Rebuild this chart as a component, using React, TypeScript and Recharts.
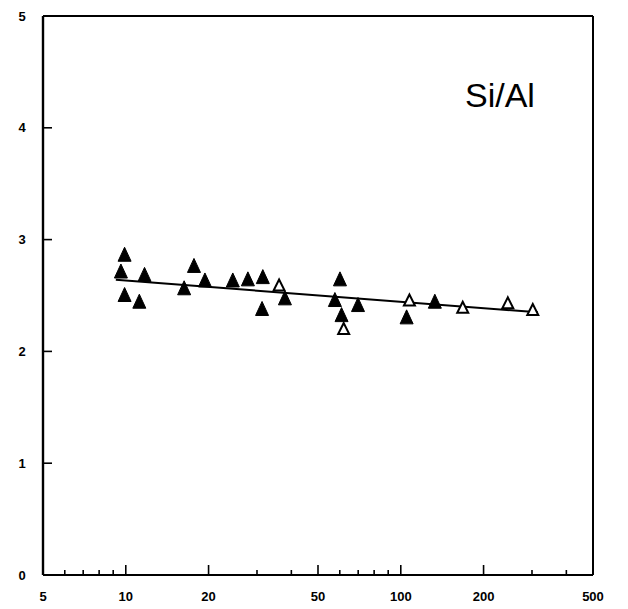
import React from 'react';
import { ScatterChart, Scatter, XAxis, YAxis } from 'recharts';

// Filled-triangle samples (x = abscissa, y = Si/Al)
const filledX = [9.9, 9.6, 11.7, 9.9, 11.2, 17.7, 19.4, 16.3, 24.5, 27.8, 31.5, 31.3, 37.9, 60.1, 57.6, 60.9, 69.9, 105, 133];
const filledY = [2.86, 2.71, 2.68, 2.5, 2.44, 2.76, 2.63, 2.56, 2.63, 2.64, 2.66, 2.375, 2.47, 2.64, 2.455, 2.32, 2.41, 2.3, 2.44];
// Open-triangle samples
const openX = [36.1, 62, 107.5, 168, 245, 302];
const openY = [2.59, 2.2, 2.455, 2.39, 2.43, 2.37];
// Regression line end points
const fitX = [9.2, 315];
const fitY = [2.64, 2.35];

const xTicks = [5, 6, 7, 8, 9, 10, 20, 30, 40, 50, 60, 70, 80, 90, 100, 200, 300, 400, 500];
const xLabels = [5, 10, 20, 50, 100, 200, 500];
const xMajor = [10, 20, 50, 100, 200];
const yTicks = [0, 1, 2, 3, 4, 5];
const seriesLabel = 'Si/Al';

const filledData = filledX.map((x, i) => ({ x, y: filledY[i] }));
const openData = openX.map((x, i) => ({ x, y: openY[i] }));
const fitData = fitX.map((x, i) => ({ x, y: fitY[i] }));

const FONT = '"Liberation Sans", Arial, sans-serif';

const XTick = (props: any) => {
  const { x, y, payload } = props;
  const v = payload.value;
  const showLine = v !== 5 && v !== 500;
  const len = xMajor.includes(v) ? 10 : 5;
  return (
    <g>
      {showLine && <line x1={x} x2={x} y1={y} y2={y - len} stroke="#000" strokeWidth={1.6} />}
      {xLabels.includes(v) && (
        <text x={x} y={y + 26} textAnchor="middle" fontFamily={FONT} fontWeight="bold" fontSize={13} fill="#000">
          {v}
        </text>
      )}
    </g>
  );
};

const YTick = (props: any) => {
  const { x, y, payload } = props;
  const v = payload.value;
  const showLine = v !== 0 && v !== 5;
  return (
    <g>
      {showLine && <line x1={x} x2={x + 9} y1={y} y2={y} stroke="#000" strokeWidth={1.6} />}
      <text x={x - 21} y={y + 4.5} textAnchor="middle" fontFamily={FONT} fontWeight="bold" fontSize={13} fill="#000">
        {v}
      </text>
    </g>
  );
};

const FilledTri = (props: any) => {
  const { cx, cy } = props;
  return <polygon points={`${cx},${cy - 8} ${cx - 6.5},${cy + 6} ${cx + 6.5},${cy + 6}`} fill="#000" stroke="#000" strokeWidth={1} />;
};

const OpenTri = (props: any) => {
  const { cx, cy } = props;
  return <polygon points={`${cx},${cy - 6} ${cx - 5.5},${cy + 5} ${cx + 5.5},${cy + 5}`} fill="#fff" stroke="#000" strokeWidth={2} />;
};

const NoShape = () => <g />;

export default function App() {
  return (
    <div style={{ position: 'absolute', left: 0, top: 0, background: '#fff' }}>
      <ScatterChart width={628} height={609} margin={{ top: 15, right: 34, bottom: 33, left: 42 }}>
        <XAxis
          xAxisId="b"
          dataKey="x"
          type="number"
          scale="log"
          domain={[5, 500]}
          allowDataOverflow
          ticks={xTicks}
          interval={0}
          tick={XTick}
          tickLine={false}
          tickSize={0}
          tickMargin={0}
          height={1}
          axisLine={{ stroke: '#000', strokeWidth: 2 }}
        />
        <XAxis
          xAxisId="t"
          orientation="top"
          dataKey="x"
          type="number"
          scale="log"
          domain={[5, 500]}
          allowDataOverflow
          tick={false}
          tickLine={false}
          height={1}
          axisLine={{ stroke: '#000', strokeWidth: 2 }}
        />
        <YAxis
          yAxisId="l"
          dataKey="y"
          type="number"
          domain={[0, 5]}
          ticks={yTicks}
          interval={0}
          tick={YTick}
          tickLine={false}
          tickSize={0}
          tickMargin={0}
          width={1}
          axisLine={{ stroke: '#000', strokeWidth: 2.4 }}
        />
        <YAxis
          yAxisId="r"
          orientation="right"
          dataKey="y"
          type="number"
          domain={[0, 5]}
          tick={false}
          tickLine={false}
          width={1}
          axisLine={{ stroke: '#000', strokeWidth: 2 }}
        />
        <Scatter
          xAxisId="b"
          yAxisId="l"
          data={fitData}
          line={{ stroke: '#000', strokeWidth: 2 }}
          shape={NoShape}
          isAnimationActive={false}
        />
        <Scatter xAxisId="b" yAxisId="l" data={filledData} shape={FilledTri} isAnimationActive={false} />
        <Scatter xAxisId="b" yAxisId="l" data={openData} shape={OpenTri} isAnimationActive={false} />
        <text x={465} y={107} fontFamily={FONT} fontSize={34} fill="#000">
          {seriesLabel}
        </text>
      </ScatterChart>
    </div>
  );
}
